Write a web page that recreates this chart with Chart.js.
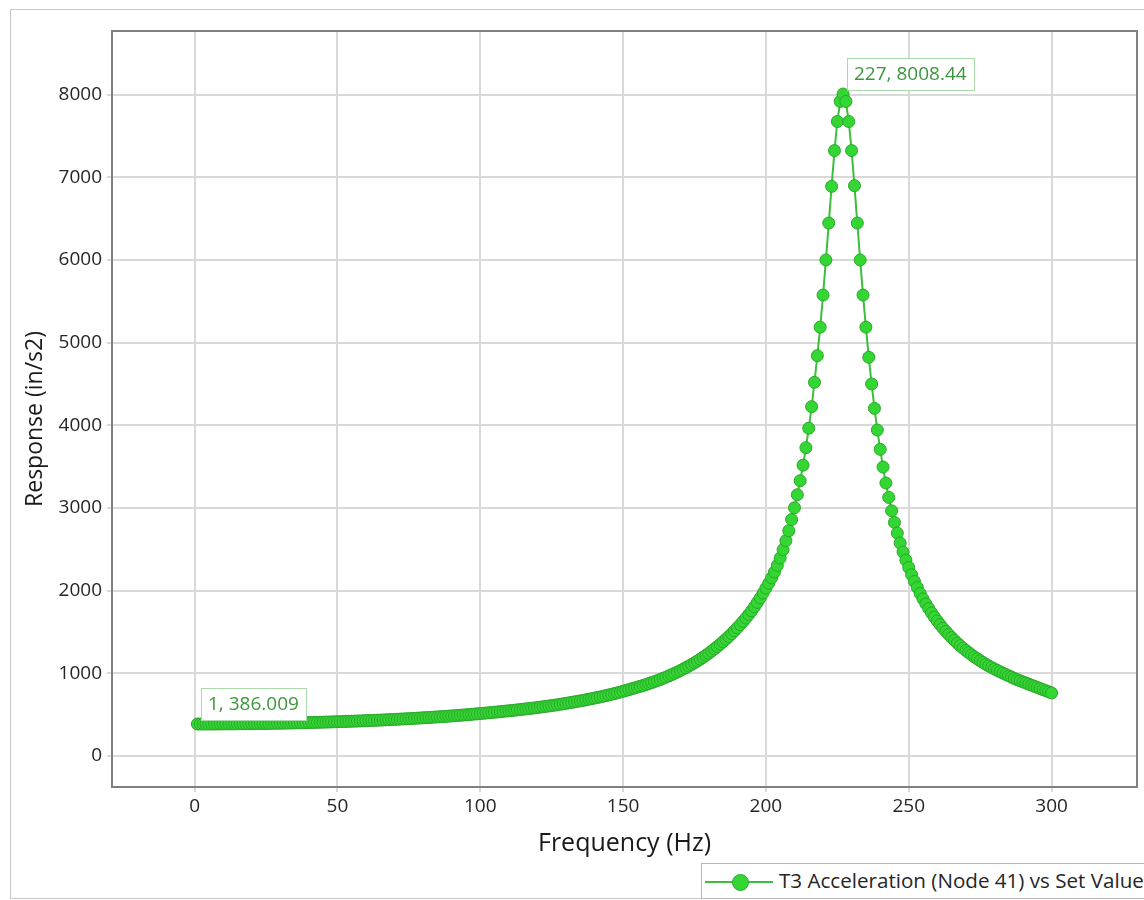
<!DOCTYPE html>
<html>
<head>
<meta charset="utf-8">
<title>T3 Acceleration - Frequency Response</title>
<script src="https://cdn.jsdelivr.net/npm/chart.js@4.4.1/dist/chart.umd.min.js"></script>
<style>
  html, body { margin: 0; padding: 0; background: #fff; overflow: hidden; }
  #wrap { position: relative; width: 1144px; height: 900px; overflow: hidden; }
  #frame { position: absolute; left: 10px; top: 9px; width: 1200px; height: 888px; border: 1px solid #c6c6c6; }
  #chart { position: absolute; left: 0; top: 0; }
  #legend { position: absolute; left: 701px; top: 863px; width: 480px; height: 34px;
            border: 1px solid #b8b8b8; background: #fff; }
  #legend .ln { position: absolute; left: 3px; top: 17px; width: 68px; height: 2px; background: #3cbf3c; }
  #legend .dot { position: absolute; left: 30px; top: 10px; width: 15px; height: 15px; border-radius: 50%;
                 background: #33d633; border: 1px solid #2aa82a; }
  #legend .txt { position: absolute; left: 77px; top: 2px; line-height: 34px; white-space: nowrap;
                 font: 20.6px "Open Sans", sans-serif; color: #262626; }
</style>
</head>
<body>
<div id="wrap">
  <div id="frame"></div>
  <canvas id="chart" width="1144" height="900"></canvas>
  <div id="legend"><span class="ln"></span><span class="dot"></span><span class="txt" id="legendText"></span></div>
</div>
<script>
// Response (in/s2) at 1 Hz steps, 1..300 Hz
const response = [
  386.009, 386.0, 386.1, 386.2, 386.3, 386.4, 386.6, 386.7, 386.9, 387.1, 387.4, 387.6, 387.9, 388.2, 388.5, 388.9, 389.2, 389.6, 390.0, 390.4,
  390.9, 391.3, 391.8, 392.3, 392.8, 393.4, 394.0, 394.6, 395.2, 395.9, 396.6, 397.3, 398.0, 398.7, 399.4, 400.2, 401.0, 401.8, 402.7, 403.6,
  404.5, 405.4, 406.4, 407.3, 408.3, 409.4, 410.4, 411.5, 412.6, 413.7, 414.9, 416.0, 417.2, 418.5, 419.7, 421.0, 422.3, 423.6, 425.0, 426.4,
  427.8, 429.3, 430.8, 432.3, 433.8, 435.4, 437.0, 438.6, 440.3, 442.0, 443.7, 445.5, 447.3, 449.1, 451.0, 452.9, 454.8, 456.8, 458.8, 460.9,
  463.0, 465.1, 467.3, 469.5, 471.8, 474.1, 476.5, 478.9, 481.3, 483.8, 486.4, 489.0, 491.7, 494.5, 497.3, 500.2, 503.2, 506.3, 509.5, 513,
  516, 519, 522, 525, 528.5, 532, 535.5, 539, 542.5, 546, 549, 553, 557, 561, 565, 569, 573, 577, 581, 586,
  590, 595, 600, 604, 609, 614, 619, 625, 630, 636, 642, 648, 654, 660, 666, 672, 679, 686, 693, 700,
  707, 714, 722, 730, 738, 746, 754, 763, 772, 782, 792, 802, 812, 822, 832, 842, 852, 863, 875, 887,
  899, 912, 925, 939, 953, 968, 983, 999, 1015, 1032, 1050, 1068, 1087, 1107, 1127, 1148, 1170, 1193, 1217, 1242,
  1268, 1295, 1323, 1352, 1382, 1413, 1445, 1479, 1514, 1550, 1588, 1627, 1668, 1711, 1756, 1805, 1857, 1912, 1970, 2030,
  2090, 2155, 2225, 2305, 2395, 2495, 2605, 2725, 2860, 3003, 3160, 3330, 3518, 3730, 3965, 4226, 4520, 4843, 5188, 5576,
  6001, 6447, 6891, 7324, 7676, 7919, 8008.44, 7919, 7676, 7324, 6900, 6447, 6001, 5576, 5188, 4823, 4500, 4205, 3943, 3709,
  3495, 3302, 3128, 2966, 2825, 2696, 2575, 2466, 2369, 2280, 2192, 2111, 2038, 1965, 1900, 1840, 1783, 1730, 1680, 1633,
  1588, 1546, 1506, 1468, 1432, 1398, 1365, 1334, 1304, 1276, 1249, 1223, 1198, 1175, 1152, 1130, 1109, 1089, 1070, 1052,
  1035, 1018, 1001, 985, 969, 953, 938, 923, 909, 895, 882, 868, 855, 842, 829, 815, 802, 789, 775, 762
];
const freqHz = response.map((_, i) => i + 1);

const xTicks = [0, 50, 100, 150, 200, 250, 300];
const yTicks = [0, 1000, 2000, 3000, 4000, 5000, 6000, 7000, 8000];

const seriesLabel = 'T3 Acceleration (Node 41) vs Set Value';
const xTitle = 'Frequency (Hz)';
const yTitle = 'Response (in/s2)';

// axis ranges (data extent padded by 10%)
const xMin = -28.9, xMax = 329.9;
const yMin = -376, yMax = 8771;

const FONT = '"Open Sans", sans-serif';
const gridColor = '#d9d9d9';
const frameColor = '#808080';
const markColor = '#33d633';
const lineColor = '#3cbf3c';
const calloutColor = '#3c963c';

// points that get a value callout: first sample and the peak
const calloutIdx = [0, response.indexOf(Math.max(...response))];

const plotDecor = {
  id: 'plotDecor',
  beforeDatasetsDraw(chart) {
    const { ctx, chartArea: a } = chart;
    ctx.save();
    ctx.strokeStyle = frameColor;
    ctx.lineWidth = 2;
    ctx.strokeRect(a.left, a.top, a.right - a.left, a.bottom - a.top);
    ctx.restore();
  },
  afterDatasetsDraw(chart) {
    const { ctx, scales: { x, y } } = chart;
    ctx.save();
    ctx.font = '19px ' + FONT;
    ctx.textBaseline = 'middle';
    calloutIdx.forEach(i => {
      const px = x.getPixelForValue(freqHz[i]);
      const py = y.getPixelForValue(response[i]);
      const text = freqHz[i] + ', ' + response[i];
      const w = Math.round(ctx.measureText(text).width) + 14;
      const h = 32;
      const bx = Math.round(px + 4);
      const by = Math.round(py - 4 - h);
      ctx.fillStyle = '#fff';
      ctx.fillRect(bx, by, w, h);
      ctx.strokeStyle = '#a9d8a9';
      ctx.lineWidth = 1;
      ctx.strokeRect(bx + 0.5, by + 0.5, w, h);
      ctx.fillStyle = calloutColor;
      ctx.fillText(text, bx + 7, by + h / 2 + 1);
    });
    ctx.restore();
  },
  afterDraw(chart) {
    // rotated y-axis title
    const { ctx, chartArea: a } = chart;
    ctx.save();
    ctx.translate(35, (a.top + a.bottom) / 2 + 10);
    ctx.rotate(-Math.PI / 2);
    ctx.font = '23px ' + FONT;
    ctx.fillStyle = '#1a1a1a';
    ctx.textAlign = 'center';
    ctx.textBaseline = 'middle';
    ctx.fillText(yTitle, 0, 0);
    ctx.restore();
  }
};

const fixedTicks = list => scale => { scale.ticks = list.map(v => ({ value: v })); };

const ctx = document.getElementById('chart').getContext('2d');
const chart = new Chart(ctx, {
  type: 'line',
  data: {
    datasets: [{
      label: seriesLabel,
      data: freqHz.map((f, i) => ({ x: f, y: response[i] })),
      borderColor: lineColor,
      borderWidth: 2,
      backgroundColor: markColor,
      pointBackgroundColor: markColor,
      pointBorderColor: '#2aa82a',
      pointBorderWidth: 1,
      pointRadius: 6,
      pointHoverRadius: 6,
      tension: 0,
      fill: false
    }]
  },
  options: {
    responsive: false,
    animation: false,
    layout: { padding: { top: 31, right: 7, left: 0, bottom: 0 } },
    plugins: {
      legend: { display: false },
      tooltip: { enabled: false }
    },
    scales: {
      x: {
        type: 'linear',
        min: xMin,
        max: xMax,
        afterBuildTicks: fixedTicks(xTicks),
        afterFit: s => { s.height = 113; },
        border: { display: false },
        grid: { color: gridColor, lineWidth: 2, tickLength: 5 },
        ticks: {
          maxRotation: 0,
          autoSkip: false,
          padding: 3,
          color: '#262626',
          font: { family: FONT, size: 19 },
          callback: v => String(v)
        },
        title: {
          display: true,
          text: xTitle,
          color: '#1a1a1a',
          font: { family: FONT, size: 25 },
          padding: { top: 0, bottom: 41 }
        }
      },
      y: {
        type: 'linear',
        min: yMin,
        max: yMax,
        afterBuildTicks: fixedTicks(yTicks),
        afterFit: s => { s.width = 112; },
        border: { display: false },
        grid: { color: gridColor, lineWidth: 2, tickLength: 5 },
        ticks: {
          autoSkip: false,
          padding: 5,
          color: '#262626',
          font: { family: FONT, size: 19 },
          callback: v => String(v)
        }
      }
    }
  },
  plugins: [plotDecor]
});

document.getElementById('legendText').textContent = chart.data.datasets[0].label;
</script>
</body>
</html>
